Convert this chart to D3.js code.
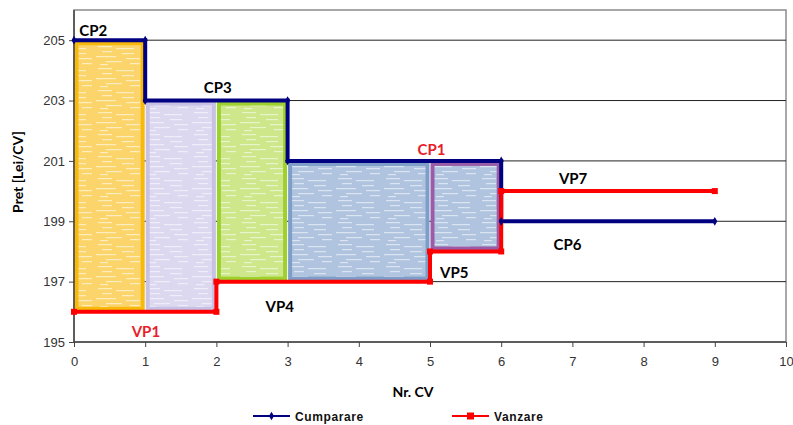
<!DOCTYPE html>
<html><head><meta charset="utf-8">
<script src="https://cdn.jsdelivr.net/npm/d3@7"></script>
<style>body{margin:0;background:#fff}svg{display:block}</style>
</head><body><svg id="c" width="793" height="425"></svg>
<script>
// ---- data ----
const xTicks = [0,1,2,3,4,5,6,7,8,9,10];
const yTicks = [195,197,199,201,203,205];
const cumparareX = [0,1,1,3,3,6,6,9];
const cumparareY = [205,205,203,203,201,201,199,199];
const vanzareX = [0,2,2,5,5,6,6,9];
const vanzareY = [196,196,197,197,198,198,200,200];
// rectangles: x0,x1,y0,y1
const boxX0 = [0,1,2,3,5];
const boxX1 = [1,2,3,5,6];
const boxYLow = [196,196,197,197,198];
const boxYHigh = [205,203,203,201,201];
const boxFill = ["#FBD56C","#DCD8F0","#CDE78A","#B0C3DF","#B0C3DF"];
const boxStroke = ["#F7B90A","#C6C1E5","#9DD12E","#7F9DC9","#9A5CA7"];
const labelText = ["CP2","CP3","CP1","VP7","CP6","VP5","VP4","VP1"];
const labelX = [0.27,2.02,5.02,7.01,6.93,5.34,2.89,1.01];
const labelY = [205.13,203.25,201.19,200.23,198.05,197.12,195.99,195.17];
const labelColor = ["#000","#000","#e8202a","#000","#000","#000","#000","#e8202a"];
const seriesNames = ["Cumparare","Vanzare"];

// ---- chart ----
const svg = d3.select("#c");
const L = 74, R = 786, T = 10, B = 342;
const x = d3.scaleLinear().domain([0,10]).range([L,R]);
const y = d3.scaleLinear().domain([195,206]).range([B,T]);

// texture pattern (white streaks)
const defs = svg.append("defs");
boxFill.forEach((c,i)=>{
  const p = defs.append("pattern").attr("id","tex"+i).attr("patternUnits","userSpaceOnUse")
    .attr("width",48).attr("height",22);
  p.append("rect").attr("width",48).attr("height",22).attr("fill",c);
  const streaks = [[2,2,14],[20,4,18],[6,7,10],[26,9,12],[0,12,20],[30,14,14],[10,17,16],[34,19,10],[4,20,8]];
  streaks.forEach(s=>p.append("rect").attr("x",s[0]).attr("y",s[1]).attr("width",s[2]).attr("height",1.2)
    .attr("fill","#fff").attr("opacity",0.55));
});

// plot border
svg.append("rect").attr("x",L).attr("y",T).attr("width",R-L).attr("height",B-T)
  .attr("fill","none").attr("stroke","#8c8c8c").attr("stroke-width",1.5);

// gridlines
svg.append("g").selectAll("line").data(yTicks.filter(v=>v>195)).join("line")
  .attr("x1",L).attr("x2",R).attr("y1",d=>y(d)).attr("y2",d=>y(d))
  .attr("stroke","#222").attr("stroke-width",1);

// boxes
const bw = 4;
svg.append("g").selectAll("rect").data(boxX0.map((d,i)=>i)).join("rect")
  .attr("x",i=>x(boxX0[i])+bw/2+0.5)
  .attr("y",i=>y(boxYHigh[i])+bw/2+1)
  .attr("width",i=>x(boxX1[i])-x(boxX0[i])-bw-1)
  .attr("height",i=>y(boxYLow[i])-y(boxYHigh[i])-bw-2)
  .attr("fill",i=>"url(#tex"+i+")")
  .attr("stroke",i=>boxStroke[i]).attr("stroke-width",bw);

// axes
const yAxis = svg.append("g").attr("transform",`translate(${L},0)`)
  .call(d3.axisLeft(y).tickValues(yTicks).tickSize(5).tickPadding(4).tickFormat(d3.format("d")));
const xAxis = svg.append("g").attr("transform",`translate(0,${B})`)
  .call(d3.axisBottom(x).tickValues(xTicks).tickSize(5).tickPadding(10));
[yAxis,xAxis].forEach(a=>{
  a.select(".domain").attr("stroke","#444").attr("stroke-width",1.5);
  a.selectAll(".tick line").attr("stroke","#444");
  a.selectAll("text").attr("font-family","Liberation Sans, Arial, sans-serif").attr("font-size",13).attr("fill","#333");
});
yAxis.select(".domain").attr("d",`M-0,${B}V${y(206)}`);
xAxis.select(".domain").attr("d",`M${L},0H${R}`);

// lines
const line = d3.line().x(d=>x(d[0])).y(d=>y(d[1]));
const cData = cumparareX.map((v,i)=>[v,cumparareY[i]]);
const vData = vanzareX.map((v,i)=>[v,vanzareY[i]]);
svg.append("path").attr("d",line(cData)).attr("fill","none").attr("stroke","#000080").attr("stroke-width",4);
svg.append("path").attr("d",line(vData)).attr("fill","none").attr("stroke","#ff0000").attr("stroke-width",4);
// markers
svg.append("g").selectAll("path").data(cData).join("path")
  .attr("transform",d=>`translate(${x(d[0])},${y(d[1])})`)
  .attr("d",d3.symbol(d3.symbolDiamond,22)).attr("fill","#000080");
svg.append("g").selectAll("rect").data(vData).join("rect")
  .attr("x",d=>x(d[0])-3).attr("y",d=>y(d[1])-3).attr("width",6).attr("height",6).attr("fill","#ff0000");

// annotations
svg.append("g").selectAll("text").data(labelText).join("text")
  .attr("x",(d,i)=>x(labelX[i])).attr("y",(d,i)=>y(labelY[i]))
  .attr("text-anchor","middle").attr("font-family","Lato, sans-serif").attr("font-weight","bold")
  .attr("font-size",15).attr("fill",(d,i)=>labelColor[i]).text(d=>d);

// axis titles
svg.append("text").attr("transform","translate(23,172) rotate(-90)").attr("text-anchor","middle")
  .attr("font-family","Lato, sans-serif").attr("font-weight","bold").attr("font-size",14).text("Pret [Lei/CV]");
svg.append("text").attr("x",413).attr("y",397).attr("text-anchor","middle")
  .attr("font-family","Lato, sans-serif").attr("font-weight","bold").attr("font-size",14).text("Nr. CV");

// legend
const lg = svg.append("g");
const legX = [253,452], legCol = ["#000080","#ff0000"];
seriesNames.forEach((n,i)=>{
  lg.append("line").attr("x1",legX[i]).attr("x2",legX[i]+37).attr("y1",416).attr("y2",416)
    .attr("stroke",legCol[i]).attr("stroke-width",2);
  if(i===0) lg.append("path").attr("transform",`translate(${legX[i]+18.5},416)`).attr("d",d3.symbol(d3.symbolDiamond,22)).attr("fill",legCol[i]);
  else lg.append("rect").attr("x",legX[i]+15).attr("y",412.5).attr("width",7).attr("height",7).attr("fill",legCol[i]);
  lg.append("text").attr("x",legX[i]+42).attr("y",420.5).attr("font-family","Liberation Sans, Arial, sans-serif")
    .attr("font-weight","bold").attr("font-size",12).attr("letter-spacing",0.6).attr("fill","#111").text(n);
});
</script></body></html>
